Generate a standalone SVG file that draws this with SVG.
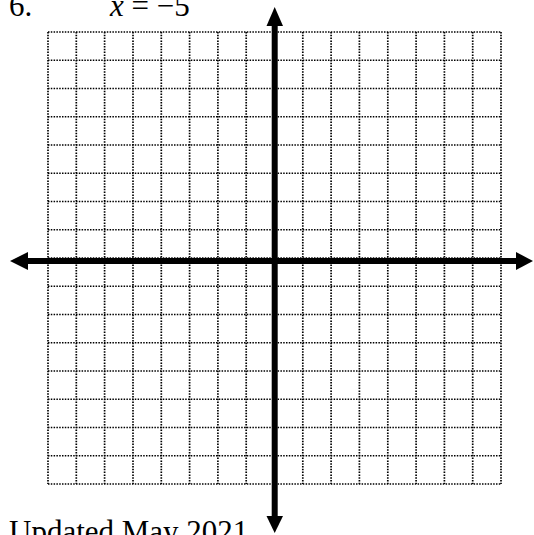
<svg xmlns="http://www.w3.org/2000/svg" width="534" height="535" viewBox="0 0 534 535">
<style>
.grid line{stroke:#000;stroke-width:1.7;stroke-dasharray:1.5 1.3;fill:none}
.axis{stroke:#000;stroke-width:6;fill:none}
.head{fill:#000;stroke:none}
.lbl{font-family:'Liberation Serif','DejaVu Serif',serif;font-size:31px;fill:#000}
</style>
<rect width="534" height="535" fill="#fff"/>
<g id="grid" class="grid">
<line x1="48" y1="32" x2="501" y2="32"/>
<line x1="48" y1="60.25" x2="501" y2="60.25"/>
<line x1="48" y1="88.5" x2="501" y2="88.5"/>
<line x1="48" y1="116.75" x2="501" y2="116.75"/>
<line x1="48" y1="145" x2="501" y2="145"/>
<line x1="48" y1="173.25" x2="501" y2="173.25"/>
<line x1="48" y1="201.5" x2="501" y2="201.5"/>
<line x1="48" y1="229.75" x2="501" y2="229.75"/>
<line x1="48" y1="258" x2="501" y2="258"/>
<line x1="48" y1="286.25" x2="501" y2="286.25"/>
<line x1="48" y1="314.5" x2="501" y2="314.5"/>
<line x1="48" y1="342.75" x2="501" y2="342.75"/>
<line x1="48" y1="371" x2="501" y2="371"/>
<line x1="48" y1="399.25" x2="501" y2="399.25"/>
<line x1="48" y1="427.5" x2="501" y2="427.5"/>
<line x1="48" y1="455.75" x2="501" y2="455.75"/>
<line x1="48" y1="484" x2="501" y2="484"/>
<line x1="48" y1="32" x2="48" y2="484"/>
<line x1="76.3" y1="32" x2="76.3" y2="484"/>
<line x1="104.6" y1="32" x2="104.6" y2="484"/>
<line x1="133" y1="32" x2="133" y2="484"/>
<line x1="161.3" y1="32" x2="161.3" y2="484"/>
<line x1="189.6" y1="32" x2="189.6" y2="484"/>
<line x1="217.9" y1="32" x2="217.9" y2="484"/>
<line x1="246.2" y1="32" x2="246.2" y2="484"/>
<line x1="274.5" y1="32" x2="274.5" y2="484"/>
<line x1="302.8" y1="32" x2="302.8" y2="484"/>
<line x1="331.1" y1="32" x2="331.1" y2="484"/>
<line x1="359.4" y1="32" x2="359.4" y2="484"/>
<line x1="387.8" y1="32" x2="387.8" y2="484"/>
<line x1="416.1" y1="32" x2="416.1" y2="484"/>
<line x1="444.4" y1="32" x2="444.4" y2="484"/>
<line x1="472.7" y1="32" x2="472.7" y2="484"/>
<line x1="501" y1="32" x2="501" y2="484"/>
</g>
<g id="axes">
<line class="axis" x1="26" y1="261" x2="518" y2="261"/>
<line class="axis" x1="274.7" y1="25" x2="274.7" y2="518"/>
<polygon class="head" points="10,261 28,252 28,270"/>
<polygon class="head" points="533,261 516,252 516,270"/>
<polygon class="head" points="274.7,7 266.5,26 283,26"/>
<polygon class="head" points="274.7,533 266.5,516 283,516"/>
</g>
<g id="labels">
<text class="lbl" x="9" y="15.5">6.</text>
<text class="lbl" x="110" y="15.5"><tspan font-style="italic">x</tspan> = −5</text>
<text class="lbl" x="9" y="542">Updated May 2021</text>
</g>
</svg>
